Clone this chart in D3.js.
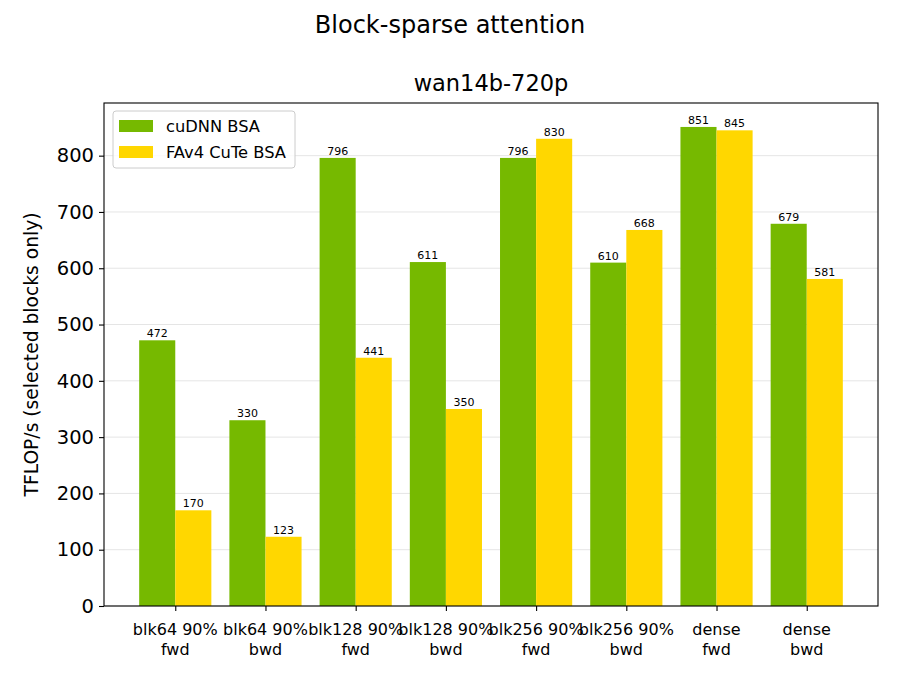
<!DOCTYPE html>
<html>
<head>
<meta charset="utf-8">
<script src="https://cdn.jsdelivr.net/npm/d3@7"></script>
<style>
  body { margin: 0; background: #fff; }
  text { font-family: "DejaVu Sans", sans-serif; fill: #000; }
</style>
</head>
<body>
<div id="chart"></div>
<script>
// chart data
var categories = ["blk64 90%\nfwd", "blk64 90%\nbwd", "blk128 90%\nfwd", "blk128 90%\nbwd",
                  "blk256 90%\nfwd", "blk256 90%\nbwd", "dense\nfwd", "dense\nbwd"];
var seriesNames = ["cuDNN BSA", "FAv4 CuTe BSA"];
var cudnnValues = [472, 330, 796, 611, 796, 610, 851, 679];
var fav4Values  = [170, 123, 441, 350, 830, 668, 845, 581];
var yTicks = [0, 100, 200, 300, 400, 500, 600, 700, 800];
var colors = ["#76b900", "#ffd700"];

var w = 900, h = 675;
var plotLeft = 104, plotRight = 878, plotTop = 103, plotBottom = 606;
var barW = 0.4;

var svg = d3.select("#chart").append("svg")
    .attr("width", w)
    .attr("height", h);

// x in "category units", like matplotlib bar positions
var xScale = d3.scaleLinear()
    .domain([-0.79, categories.length - 1 + 0.79])
    .range([plotLeft, plotRight]);
var yMax = d3.max(cudnnValues.concat(fav4Values)) * 1.05;
var yScale = d3.scaleLinear()
    .domain([0, yMax])
    .range([plotBottom, plotTop]);

// grid
svg.append("g").selectAll("line").data(yTicks).enter()
    .append("line")
    .attr("x1", plotLeft).attr("x2", plotRight)
    .attr("y1", function(d) { return yScale(d); })
    .attr("y2", function(d) { return yScale(d); })
    .style("stroke", "#e5e5e5")
    .style("stroke-width", 1);

// bars
var series = [cudnnValues, fav4Values];
series.forEach(function(vals, s) {
    var offset = (s === 0 ? -barW : 0);
    var g = svg.append("g");
    g.selectAll("rect").data(vals).enter()
        .append("rect")
        .attr("x", function(d, i) { return xScale(i + offset); })
        .attr("width", function() { return xScale(barW) - xScale(0); })
        .attr("y", function(d) { return yScale(d); })
        .attr("height", function(d) { return plotBottom - yScale(d); })
        .style("fill", colors[s]);
    g.selectAll("text").data(vals).enter()
        .append("text")
        .attr("x", function(d, i) { return xScale(i + offset + barW / 2); })
        .attr("y", function(d) { return yScale(d) - 3; })
        .attr("text-anchor", "middle")
        .style("font-size", "11px")
        .text(function(d) { return d; });
});

// frame
svg.append("rect")
    .attr("x", plotLeft).attr("y", plotTop)
    .attr("width", plotRight - plotLeft).attr("height", plotBottom - plotTop)
    .style("fill", "none")
    .style("stroke", "#000")
    .style("stroke-width", 1.1);

// y axis
var yAxis = d3.axisLeft(yScale)
    .tickValues(yTicks)
    .tickSize(5)
    .tickPadding(5);
var yAxisG = svg.append("g")
    .attr("transform", "translate(" + plotLeft + ",0)")
    .call(yAxis);
yAxisG.select(".domain").remove();
yAxisG.selectAll("text")
    .style("font-family", "DejaVu Sans")
    .style("font-size", "19.5px");
yAxisG.selectAll("line").style("stroke-width", 1.1);

// x axis
var xAxis = d3.axisBottom(xScale)
    .tickValues(d3.range(categories.length))
    .tickSize(5)
    .tickFormat("");
var xAxisG = svg.append("g")
    .attr("transform", "translate(0," + plotBottom + ")")
    .call(xAxis);
xAxisG.select(".domain").remove();
xAxisG.selectAll("line").style("stroke-width", 1.1);

var xLabels = svg.append("g").selectAll("text").data(categories).enter()
    .append("text")
    .attr("text-anchor", "middle")
    .style("font-size", "16px");
xLabels.each(function(d, i) {
    var t = d3.select(this);
    d.split("\n").forEach(function(line, k) {
        t.append("tspan")
            .attr("x", xScale(i))
            .attr("y", 635 + k * 20)
            .text(line);
    });
});

// y label
svg.append("text")
    .attr("transform", "translate(38," + ((plotTop + plotBottom) / 2) + ") rotate(-90)")
    .attr("text-anchor", "middle")
    .style("font-size", "18.7px")
    .text("TFLOP/s (selected blocks only)");

// titles
svg.append("text")
    .attr("x", w / 2).attr("y", 33)
    .attr("text-anchor", "middle")
    .style("font-size", "24px")
    .text("Block-sparse attention");
svg.append("text")
    .attr("x", (plotLeft + plotRight) / 2).attr("y", 91)
    .attr("text-anchor", "middle")
    .style("font-size", "22.5px")
    .text("wan14b-720p");

// legend
var legend = svg.append("g").attr("transform", "translate(113,111)");
legend.append("rect")
    .attr("width", 182).attr("height", 57)
    .attr("rx", 3)
    .style("fill", "#fff")
    .style("fill-opacity", 0.8)
    .style("stroke", "#cccccc")
    .style("stroke-width", 1);
seriesNames.forEach(function(name, s) {
    legend.append("rect")
        .attr("x", 6).attr("y", 9 + s * 26)
        .attr("width", 34).attr("height", 12)
        .style("fill", colors[s]);
    legend.append("text")
        .attr("x", 53).attr("y", 21 + s * 26)
        .style("font-size", "16.3px")
        .text(name);
});
</script>
</body>
</html>
